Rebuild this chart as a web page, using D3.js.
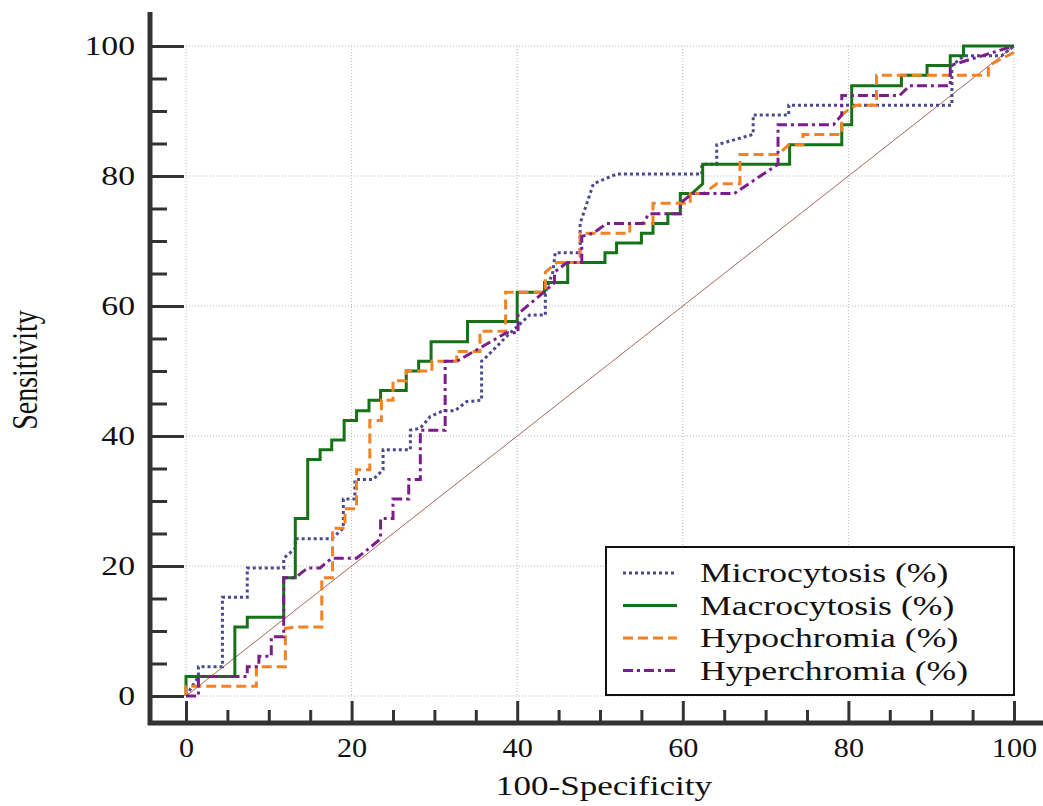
<!DOCTYPE html>
<html>
<head>
<meta charset="utf-8">
<script src="https://cdn.jsdelivr.net/npm/d3@7"></script>
<style>
body { margin: 0; background: #fff; }
text { font-family: "Liberation Serif", "Times New Roman", serif; fill: #111; }
</style>
</head>
<body>
<svg></svg>
<script>
// ROC points [100-Specificity, Sensitivity]
const microcytosis = [[0,0],[1.5,3.0],[1.5,4.5],[4.4,4.5],[4.4,15.2],[7.4,15.2],[7.4,19.7],[11.8,19.7],[11.8,21.2],[13.2,22.7],[13.2,24.2],[17.6,24.2],[19.0,25.8],[19.0,30.3],[20.4,30.3],[20.4,33.3],[22.6,33.3],[23.8,34.8],[23.8,37.9],[27.1,37.9],[27.1,40.9],[28.3,41.2],[29.5,43.0],[31.1,43.9],[32.5,43.9],[33.9,45.3],[35.7,45.5],[35.7,51.5],[36.3,52.2],[38.7,55.3],[41.5,58.6],[43.4,58.6],[43.4,62.1],[44.3,65.2],[44.6,68.2],[47.6,68.2],[47.6,72.7],[49.2,78.8],[52.0,80.3],[62.3,80.3],[62.3,81.8],[64.1,81.8],[64.1,84.8],[68.5,86.4],[68.5,89.4],[72.8,89.4],[72.8,90.9],[92.5,90.9],[92.5,97.0],[94.0,98.5],[98.5,98.5],[100,100]]
const macrocytosis = [[0,0],[0,3.0],[5.9,3.0],[5.9,10.6],[7.4,10.6],[7.4,12.1],[11.8,12.1],[11.8,18.2],[13.2,18.2],[13.2,27.3],[14.7,27.3],[14.7,36.4],[16.2,36.4],[16.2,37.9],[17.6,37.9],[17.6,39.4],[19.1,39.4],[19.1,42.4],[20.6,42.4],[20.6,43.9],[22.1,43.9],[22.1,45.5],[23.5,45.5],[23.5,47.0],[26.6,47.0],[26.6,50.0],[28.1,50.0],[28.1,51.5],[29.6,51.5],[29.6,54.5],[34.0,54.5],[34.0,57.6],[40.0,57.6],[40.0,62.1],[43.3,62.1],[43.3,63.6],[46.1,63.6],[46.1,66.7],[50.6,66.7],[50.6,68.2],[52.0,68.2],[52.0,69.7],[55.0,69.7],[55.0,71.2],[56.4,71.2],[56.4,72.7],[58.2,72.7],[58.2,74.2],[59.7,74.2],[59.7,77.3],[61.1,77.3],[62.4,78.8],[62.4,81.8],[72.9,81.8],[72.9,84.8],[79.2,84.8],[79.2,87.9],[80.4,87.9],[80.4,93.9],[86.4,93.9],[86.4,95.5],[89.5,95.5],[89.5,97.0],[92.3,97.0],[92.3,98.5],[93.9,98.5],[93.9,100],[100,100]]
const hypochromia = [[0,0],[0,1.5],[8.5,1.5],[8.5,4.5],[12.0,4.5],[12.0,10.4],[13.2,10.6],[16.4,10.6],[16.4,18.2],[17.7,18.2],[17.7,25.8],[19.2,25.8],[19.2,28.8],[20.6,28.8],[20.6,34.8],[22.2,34.8],[22.2,42.4],[23.6,42.4],[23.6,45.5],[25.0,45.5],[25.0,48.5],[26.6,48.5],[26.6,50.0],[29.7,50.0],[29.7,51.5],[32.7,51.5],[32.7,53.0],[35.5,53.0],[35.5,56.1],[38.6,56.1],[38.6,62.1],[43.4,62.1],[43.4,65.2],[44.8,66.7],[47.6,66.7],[47.6,71.2],[53.6,71.2],[53.6,72.7],[56.4,72.7],[56.4,75.8],[60.9,75.8],[60.9,77.3],[62.5,77.3],[64.1,78.8],[66.9,78.8],[66.9,83.3],[71.5,83.3],[72.8,84.8],[74.5,84.8],[74.5,86.4],[79.2,86.4],[79.2,89.4],[80.0,90.2],[80.9,90.9],[83.4,90.9],[83.4,95.5],[96.9,95.5],[96.9,97.0],[100,99.0]]
const hyperchromia = [[0,0],[1.5,0],[1.5,3.0],[7.4,3.0],[7.4,4.5],[8.8,4.5],[8.8,6.1],[10.3,6.1],[10.3,9.1],[11.8,9.1],[11.8,18.2],[13.2,18.2],[14.7,19.7],[16.2,19.7],[17.6,21.2],[20.6,21.2],[22.1,22.7],[23.5,24.2],[23.5,27.3],[25.0,27.3],[25.0,30.3],[26.9,30.3],[26.9,33.3],[28.3,33.3],[28.3,40.9],[31.3,40.9],[31.3,51.5],[32.7,51.5],[38.7,55.9],[40.1,55.9],[40.1,58.8],[43.2,62.1],[44.5,63.6],[44.5,65.2],[46.0,66.7],[47.8,66.7],[47.8,70.7],[49.2,71.2],[50.8,72.7],[55.2,72.7],[55.9,74.2],[59.7,74.2],[59.7,75.8],[61.1,77.3],[66.2,77.3],[71.5,81.8],[71.5,87.9],[78.2,87.9],[79.2,89.4],[79.2,92.4],[86.2,92.4],[87.4,93.9],[92.3,93.9],[92.3,97.0],[100,100]]

const seriesNames = ["Microcytosis (%)", "Macrocytosis (%)", "Hypochromia (%)", "Hyperchromia (%)"]
const seriesData = [microcytosis, macrocytosis, hypochromia, hyperchromia]
const seriesColors = ["#4a4a8c", "#167216", "#f28224", "#7c1d8c"]
const seriesDash = ["3,3", null, "10,5", "10,4,3,4"]

const majorTicks = [0, 20, 40, 60, 80, 100]
const minorTicks = [5, 10, 15, 25, 30, 35, 45, 50, 55, 65, 70, 75, 85, 90, 95]
const xTitle = "100-Specificity"
const yTitle = "Sensitivity"

const svgWidth = 1043
const svgHeight = 806
const plot = {left: 186, right: 1014, top: 46, bottom: 696}
const axisX = 150   // left axis line
const axisY = 723   // bottom axis line
const stretch = 1.25 // the source picture is a bit wider than tall

const svg = d3.select("svg")
.attr("width", svgWidth)
.attr("height", svgHeight)

svg.append("rect")
.attr("width", svgWidth)
.attr("height", svgHeight)
.attr("fill", "#fff")

const xScale = d3.scaleLinear().domain([0, 100]).range([plot.left, plot.right])
const yScale = d3.scaleLinear().domain([0, 100]).range([plot.bottom, plot.top])

// dotted grid
svg.append("g")
.selectAll("line")
.data(majorTicks)
.enter()
.append("line")
.attr("x1", (d)=>xScale(d)).attr("x2", (d)=>xScale(d))
.attr("y1", yScale(100)).attr("y2", yScale(0))
.attr("stroke", "#b8b8b8").attr("stroke-width", 1).attr("stroke-dasharray", "1,2")

svg.append("g")
.selectAll("line")
.data(majorTicks)
.enter()
.append("line")
.attr("y1", (d)=>yScale(d)).attr("y2", (d)=>yScale(d))
.attr("x1", xScale(0)).attr("x2", xScale(100))
.attr("stroke", "#b8b8b8").attr("stroke-width", 1).attr("stroke-dasharray", "1,2")

// left axis: ticks point inward, labels outside
const yMinor = svg.append("g")
.attr("transform", `translate(${axisX},0)`)
.call(d3.axisLeft(yScale).tickValues(minorTicks).tickSize(-17).tickFormat(""))
const yMajor = svg.append("g")
.attr("transform", `translate(${axisX},0)`)
.call(d3.axisLeft(yScale).tickValues(majorTicks).tickSize(-34).tickPadding(15))

const xMinor = svg.append("g")
.attr("transform", `translate(0,${axisY})`)
.call(d3.axisBottom(xScale).tickValues(minorTicks).tickSize(-13).tickFormat(""))
const xMajor = svg.append("g")
.attr("transform", `translate(0,${axisY})`)
.call(d3.axisBottom(xScale).tickValues(majorTicks).tickSize(-22).tickPadding(15))

;[yMinor, yMajor, xMinor, xMajor].forEach((g)=>{
    g.select(".domain").remove()
    g.selectAll(".tick line").attr("stroke", "#333").attr("stroke-width", 3)
})
yMajor.selectAll(".tick text")
.attr("font-size", 27)
.attr("x", -15 / stretch)
.attr("transform", `scale(${stretch},1)`)
xMajor.selectAll(".tick text")
.attr("font-size", 27)
.attr("transform", "scale(1.12,1)")

svg.append("line")
.attr("x1", axisX).attr("x2", axisX).attr("y1", 12).attr("y2", axisY + 2)
.attr("stroke", "#333").attr("stroke-width", 5)
svg.append("line")
.attr("x1", axisX - 2).attr("x2", svgWidth).attr("y1", axisY).attr("y2", axisY)
.attr("stroke", "#333").attr("stroke-width", 5)

// chance line
svg.append("line")
.attr("x1", xScale(0)).attr("y1", yScale(0))
.attr("x2", xScale(100)).attr("y2", yScale(100))
.attr("stroke", "#a8675c").attr("stroke-width", 1)

const line = d3.line()
.x((d)=>xScale(d[0]))
.y((d)=>yScale(d[1]))

svg.append("g")
.selectAll("path")
.data(seriesData)
.enter()
.append("path")
.attr("d", (d)=>line(d))
.attr("fill", "none")
.attr("stroke", (d,i)=>seriesColors[i])
.attr("stroke-width", 3)
.attr("stroke-dasharray", (d,i)=>seriesDash[i])

// titles
svg.append("text")
.attr("transform", `translate(604,795) scale(1.3,1)`)
.attr("text-anchor", "middle")
.attr("font-size", 27)
.text(xTitle)

svg.append("text")
.attr("transform", `translate(37,370) scale(1.28,1) rotate(-90)`)
.attr("text-anchor", "middle")
.attr("font-size", 28)
.text(yTitle)

// legend
const legend = svg.append("g")
legend.append("rect")
.attr("x", 606).attr("y", 547)
.attr("width", 408).attr("height", 148)
.attr("fill", "#fff").attr("stroke", "#111").attr("stroke-width", 2)

const rows = legend.selectAll("g.row")
.data(seriesNames)
.enter()
.append("g")
.attr("class", "row")
.attr("transform", (d,i)=>`translate(0,${573 + i * 32.5})`)

rows.append("line")
.attr("x1", 623).attr("x2", 677)
.attr("stroke", (d,i)=>seriesColors[i])
.attr("stroke-width", 3)
.attr("stroke-dasharray", (d,i)=>seriesDash[i])

rows.append("text")
.attr("transform", "translate(700,9) scale(1.32,1)")
.attr("font-size", 27)
.text((d)=>d)
</script>
</body>
</html>
